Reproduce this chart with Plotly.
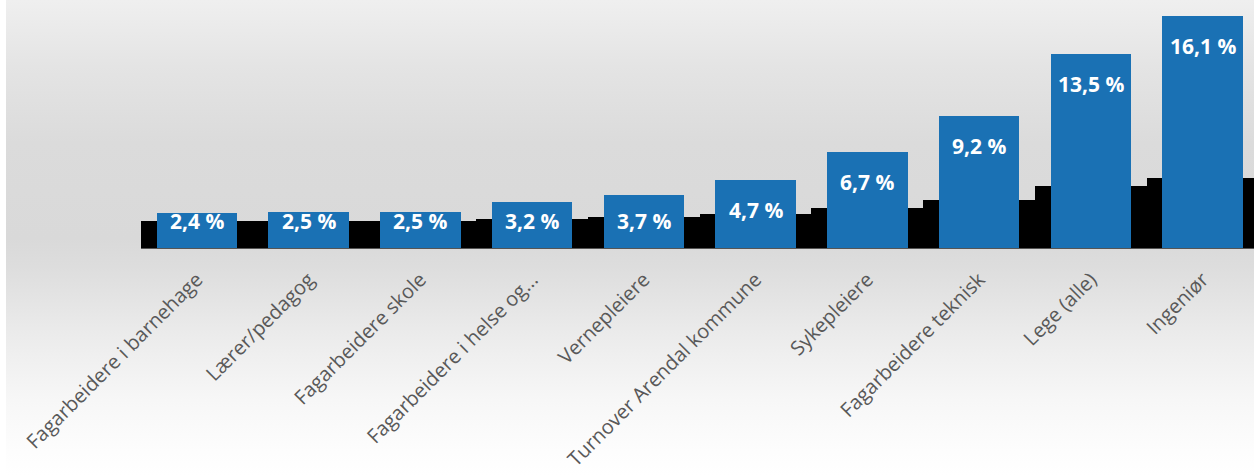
import base64
import plotly.graph_objects as go

categories = [
    "Fagarbeidere i barnehage",
    "Lærer/pedagog",
    "Fagarbeidere skole",
    "Fagarbeidere i helse og...",
    "Vernepleiere",
    "Turnover Arendal kommune",
    "Sykepleiere",
    "Fagarbeidere teknisk",
    "Lege (alle)",
    "Ingeniør",
]
turnover_pct = [2.4, 2.5, 2.5, 3.2, 3.7, 4.7, 6.7, 9.2, 13.5, 16.1]
shadow_values = [1.85, 1.85, 1.9, 2.0, 2.18, 2.35, 2.78, 3.34, 4.28, 4.9]
value_labels = [f"{v:.1f} %".replace(".", ",") for v in turnover_pct]

W, H = 1254, 476
ML, MB, MT = 141, 228, 0
plot_w = W - ML
plot_h = H - MB - MT
Y_MAX = 17.24
px_per_unit = plot_h / Y_MAX

x_pos = list(range(len(categories)))

fig = go.Figure()
fig.add_trace(go.Bar(
    x=x_pos, y=shadow_values, width=1.0,
    marker=dict(color="#000000", line=dict(width=0)),
    hoverinfo="skip", showlegend=False,
))
fig.add_trace(go.Bar(
    x=x_pos, y=turnover_pct, width=0.72,
    marker=dict(color="#1a71b4", line=dict(width=0)),
    showlegend=False,
))

# value labels placed inside the top of each bar (offset 30 px below top, not below ~27 px above base)
min_label_y = 27 / px_per_unit
for xi, v, lab in zip(x_pos, turnover_pct, value_labels):
    y_lab = max(v - 30 / px_per_unit, min_label_y)
    fig.add_annotation(
        x=xi, y=y_lab, text=f"<b>{lab}</b>", showarrow=False,
        xanchor="center", yanchor="middle",
        font=dict(family="Open Sans", size=21, color="white"),
    )

svg = f'''<svg xmlns="http://www.w3.org/2000/svg" width="{W-6}" height="{H}" preserveAspectRatio="none">
<defs><linearGradient id="g" x1="0" y1="0" x2="0" y2="1">
<stop offset="0" stop-color="#efefef"/>
<stop offset="0.14" stop-color="#e4e4e4"/>
<stop offset="0.30" stop-color="#dbdbdb"/>
<stop offset="0.50" stop-color="#d9d9d9"/>
<stop offset="0.56" stop-color="#dddddd"/>
<stop offset="0.70" stop-color="#ebebeb"/>
<stop offset="0.84" stop-color="#f7f7f7"/>
<stop offset="0.95" stop-color="#fdfdfd"/>
<stop offset="1" stop-color="#ffffff"/>
</linearGradient></defs>
<rect x="0" y="0" width="{W-6}" height="{H}" fill="url(#g)"/>
</svg>'''
uri = "data:image/svg+xml;base64," + base64.b64encode(svg.encode()).decode()

fig.add_layout_image(dict(
    source=uri, xref="paper", yref="paper",
    x=(6 - ML) / plot_w, y=1 + MT / plot_h,
    sizex=(W - 6) / plot_w, sizey=H / plot_h,
    xanchor="left", yanchor="top", sizing="stretch", layer="below",
))

fig.update_layout(
    width=W, height=H,
    margin=dict(l=ML, r=0, t=MT, b=MB, pad=0),
    barmode="overlay", bargap=0,
    paper_bgcolor="white", plot_bgcolor="rgba(0,0,0,0)",
    xaxis=dict(
        range=[-0.5, 9.46], tickmode="array", tickvals=x_pos, ticktext=categories,
        tickangle=-45, showgrid=False, zeroline=False,
        showline=True, linecolor="#555555", linewidth=1,
        ticks="", ticklabelstandoff=11,
        tickfont=dict(family="Open Sans", size=20, color="#595959"),
    ),
    yaxis=dict(range=[0, Y_MAX], visible=False, showgrid=False, zeroline=False),
)

fig.write_html("out.html")
